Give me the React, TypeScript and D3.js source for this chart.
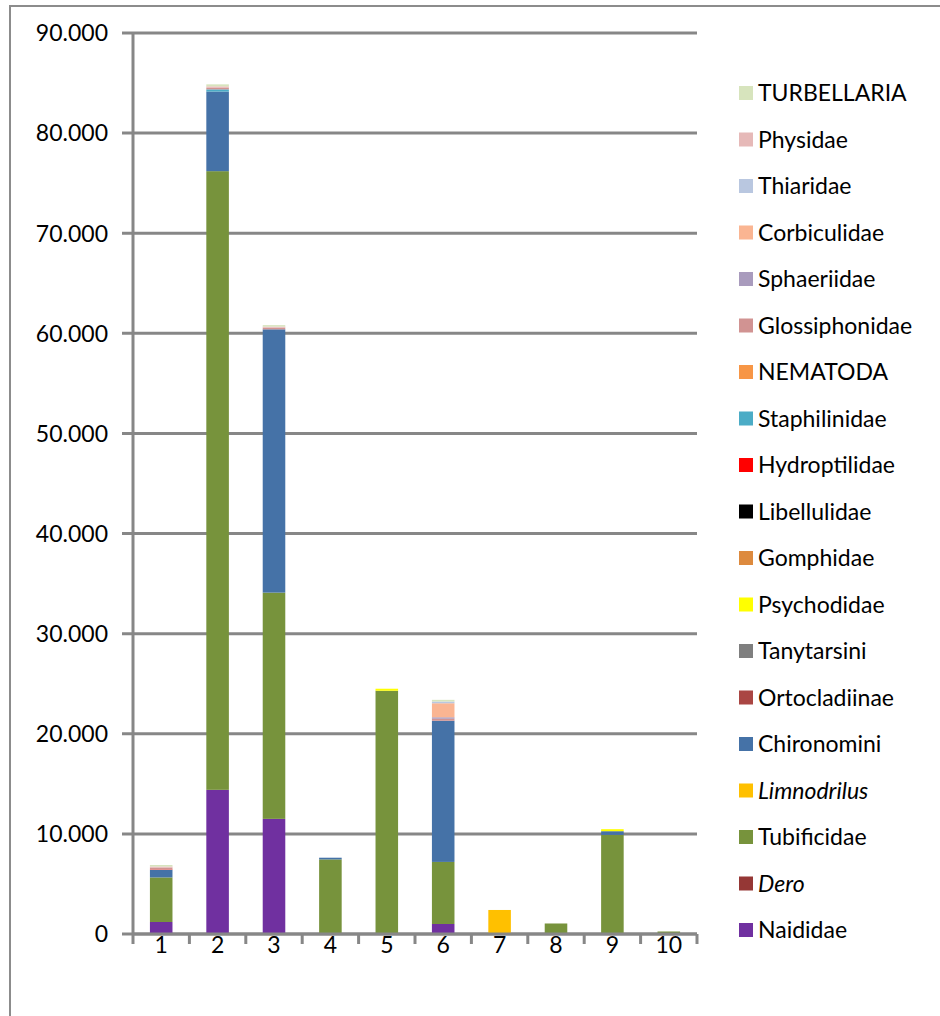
import React from "react";
import * as d3 from "d3";

const categories = ["1", "2", "3", "4", "5", "6", "7", "8", "9", "10"];

// series in stacking order (bottom to top)
const seriesNames = [
  "Naididae", "Dero", "Tubificidae", "Limnodrilus", "Chironomini", "Ortocladiinae",
  "Tanytarsini", "Psychodidae", "Gomphidae", "Libellulidae", "Hydroptilidae",
  "Staphilinidae", "NEMATODA", "Glossiphonidae", "Sphaeriidae", "Corbiculidae",
  "Thiaridae", "Physidae", "TURBELLARIA",
];
const italicSeries = ["Dero", "Limnodrilus"];
const seriesColors = [
  "#7030a0", "#953735", "#77933c", "#ffc000", "#4572a7", "#aa4643",
  "#7f7f7f", "#ffff00", "#dd8a3e", "#000000", "#ff0000",
  "#4bacc6", "#f79646", "#d19392", "#a99bbd", "#fab592",
  "#b9c7e0", "#e6b9b8", "#d7e4bd",
];

const Naididae =       [1200, 14400, 11500, 0, 0, 1000, 0, 0, 0, 0];
const Dero =           [0, 0, 0, 0, 0, 0, 0, 0, 0, 0];
const Tubificidae =    [4450, 61800, 22600, 7450, 24300, 6200, 0, 1050, 9900, 250];
const Limnodrilus =    [0, 0, 0, 0, 0, 0, 2400, 0, 0, 0];
const Chironomini =    [750, 7950, 26300, 170, 0, 14100, 0, 0, 370, 0];
const Ortocladiinae =  [0, 0, 0, 0, 0, 0, 0, 0, 0, 0];
const Tanytarsini =    [0, 0, 0, 0, 0, 0, 0, 0, 0, 0];
const Psychodidae =    [0, 0, 0, 0, 200, 0, 0, 0, 200, 0];
const Gomphidae =      [0, 0, 0, 0, 0, 0, 0, 0, 0, 0];
const Libellulidae =   [0, 0, 0, 0, 0, 0, 0, 0, 0, 0];
const Hydroptilidae =  [40, 0, 0, 0, 0, 0, 0, 0, 0, 0];
const Staphilinidae =  [0, 220, 0, 0, 0, 0, 0, 0, 0, 0];
const NEMATODA =       [0, 0, 0, 0, 0, 0, 0, 0, 0, 0];
const Glossiphonidae = [200, 150, 170, 0, 0, 200, 0, 0, 0, 0];
const Sphaeriidae =    [0, 0, 0, 0, 0, 150, 0, 0, 0, 0];
const Corbiculidae =   [0, 0, 0, 0, 0, 1400, 0, 0, 0, 0];
const Thiaridae =      [0, 0, 0, 0, 0, 170, 0, 0, 0, 0];
const Physidae =       [100, 150, 100, 0, 0, 0, 0, 0, 0, 0];
const TURBELLARIA =    [150, 200, 150, 0, 0, 170, 0, 0, 0, 0];

const seriesValues = [
  Naididae, Dero, Tubificidae, Limnodrilus, Chironomini, Ortocladiinae,
  Tanytarsini, Psychodidae, Gomphidae, Libellulidae, Hydroptilidae,
  Staphilinidae, NEMATODA, Glossiphonidae, Sphaeriidae, Corbiculidae,
  Thiaridae, Physidae, TURBELLARIA,
];

const yTicks = [0, 10000, 20000, 30000, 40000, 50000, 60000, 70000, 80000, 90000];

const W = 940;
const H = 1016;
const X0 = 133;
const X1 = 697;
const Y0 = 934;
const Y1 = 33;
const FONT = "Lato, 'Open Sans', sans-serif";
const FS = 23;
const GRID = "#878787";

export default function App() {
  const rows = categories.map((c, i) => {
    const r: any = { cat: c };
    seriesNames.forEach((s, j) => (r[s] = seriesValues[j][i]));
    return r;
  });
  const stacked = d3.stack().keys(seriesNames)(rows);

  const x = d3.scaleBand().domain(categories).range([X0, X1]).paddingInner(0.6).paddingOuter(0.3);
  const xb = d3.scaleBand().domain(categories).range([X0, X1]);
  const y = d3.scaleLinear().domain([0, 90000]).range([Y0, Y1]);
  const fmt = (v: number) => d3.format(",.3f")(v / 1000).replace(",", "");

  const legendTop = 93;
  const legendStep = 46.5;
  const legendOrder = [...seriesNames].reverse();

  return (
    <svg width={W} height={H} style={{ position: "absolute", left: 0, top: 0, background: "#fff" }}>
      <rect x={10} y={6} width={W} height={H} fill="#fff" stroke="#8c8c8c" strokeWidth={2} />
      {/* gridlines */}
      {yTicks.map((t) => (
        <line key={t} x1={122} x2={X1} y1={y(t)} y2={y(t)} stroke={GRID} strokeWidth={3} />
      ))}
      {/* y axis */}
      <line x1={X0} x2={X0} y1={Y1 - 1} y2={Y0 + 10} stroke={GRID} strokeWidth={3} />
      {/* x ticks */}
      {categories.map((c) => (
        <line key={c} x1={xb(c)! + xb.bandwidth()} x2={xb(c)! + xb.bandwidth()} y1={Y0} y2={Y0 + 10} stroke={GRID} strokeWidth={3} />
      ))}
      {/* bars */}
      {stacked.map((layer, j) => (
        <g key={layer.key} fill={seriesColors[j]}>
          {layer.map((d, i) =>
            d[1] - d[0] > 0 ? (
              <rect key={i} x={x(categories[i])} width={x.bandwidth()} y={y(d[1])} height={y(d[0]) - y(d[1])} />
            ) : null
          )}
        </g>
      ))}
      {/* x axis line */}
      <line x1={X0} x2={X1} y1={Y0} y2={Y0} stroke={GRID} strokeWidth={3} />
      {/* y labels */}
      {yTicks.map((t) => (
        <text key={t} x={108} y={y(t)} dy="0.36em" textAnchor="end" fontFamily={FONT} fontSize={FS} fill="#000">
          {t === 0 ? "0" : fmt(t)}
        </text>
      ))}
      {/* x labels */}
      {categories.map((c) => (
        <text key={c} x={xb(c)! + xb.bandwidth() / 2} y={953} textAnchor="middle" fontFamily={FONT} fontSize={FS} fill="#000">
          {c}
        </text>
      ))}
      {/* legend */}
      {legendOrder.map((s, k) => {
        const j = seriesNames.indexOf(s);
        const cy = legendTop + k * legendStep;
        return (
          <g key={s}>
            <rect x={739} y={cy - 7} width={14} height={14} fill={seriesColors[j]} />
            <text x={758} y={cy} dy="0.36em" fontFamily={FONT} fontSize={FS} fontStyle={italicSeries.includes(s) ? "italic" : "normal"} fill="#000">
              {s}
            </text>
          </g>
        );
      })}
    </svg>
  );
}
